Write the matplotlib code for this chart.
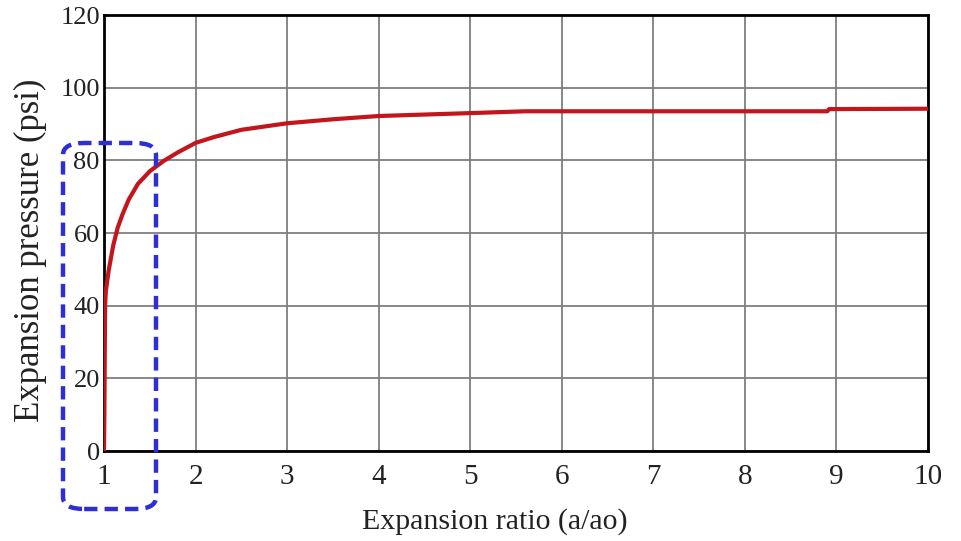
import matplotlib
matplotlib.use("Agg")
import matplotlib.pyplot as plt
from matplotlib.patches import FancyBboxPatch

# Data
ratio = [1.0, 1.004, 1.008, 1.012, 1.02, 1.05, 1.1, 1.15, 1.2, 1.27, 1.37, 1.5, 1.65,
         1.8, 2.0, 2.2, 2.5, 3.0, 3.5, 4.0, 4.5, 5.0, 5.6, 6.0, 7.0, 8.0, 8.9, 8.92, 10.0]
pressure = [0, 10, 26, 40, 44, 49.5, 56.5, 61.5, 65.0, 69.2, 73.5, 77.0, 79.8,
            82.1, 84.8, 86.4, 88.4, 90.2, 91.3, 92.2, 92.6, 93.0, 93.5, 93.5, 93.5, 93.5,
            93.5, 94.1, 94.2]
x_ticks = [1, 2, 3, 4, 5, 6, 7, 8, 9, 10]
y_ticks = [0, 20, 40, 60, 80, 100, 120]

plt.rcParams['font.family'] = ['Liberation Serif', 'DejaVu Serif']

fig = plt.figure(figsize=(9.61, 5.41), dpi=100)
ax = fig.add_axes([104/961, 1-451/541, (928-104)/961, (451-15)/541])

ax.plot(ratio, pressure, color='#c2151c', linewidth=3.0, solid_capstyle='butt', zorder=3)

ax.set_xlim(1, 10)
ax.set_ylim(0, 120)
ax.set_xticks(x_ticks)
ax.set_yticks(y_ticks)
ax.grid(True, color='#7f7f7f', linewidth=1.3)
ax.set_axisbelow(True)
ax.tick_params(axis='x', length=0, labelsize=21, colors='#222222', pad=9)
ax.tick_params(axis='y', length=0, labelsize=19, colors='#222222', pad=3)
for s in ax.spines.values():
    s.set_linewidth(2.0)
    s.set_color('black')

ax.set_xlabel('Expansion ratio (a/ao)', fontsize=21.5, color='#222222', va='center')
ax.xaxis.set_label_coords((495-104)/824, (451-522)/436)
ax.set_ylabel('Expansion pressure (psi)', fontsize=25, color='#222222', va='center')
ax.yaxis.set_label_coords((30-104)/824, (451-250)/436)

# Blue dashed highlight box
box = FancyBboxPatch((63/961, 1-509/541), (156-63)/961, (509-143)/541,
                     boxstyle="round,pad=0,rounding_size=0.022",
                     transform=fig.transFigure, fill=False,
                     edgecolor='#2d2fd4', linewidth=3.2, linestyle=(0, (3, 1.6)),
                     zorder=10)
fig.patches.append(box)

fig.savefig('out.png', dpi=100)
